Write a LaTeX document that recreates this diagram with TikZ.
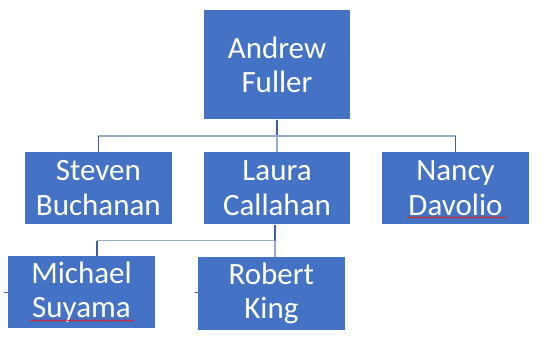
\documentclass[tikz,border=0pt]{standalone}
\usepackage{fontspec}
\setmainfont{Carlito}
\usetikzlibrary{decorations.pathmorphing}
\definecolor{boxblue}{HTML}{4472C4}
\definecolor{darkline}{HTML}{3F5F9E}
\definecolor{lightline}{HTML}{97ACCF}
\definecolor{spell}{HTML}{E02020}
\begin{document}
\begin{tikzpicture}[x=1pt,y=-1pt,
  person/.style={draw=none,fill=boxblue,text=white,inner sep=0pt,align=center,
    font=\fontsize{31}{34.5}\selectfont},
  dk/.style={draw=darkline,line width=1.6pt},
  lt/.style={draw=lightline,line width=1.8pt},
  squig/.style={draw=spell,line width=0.6pt,decorate,
    decoration={snake,amplitude=0.7pt,segment length=2.5pt}}]
\useasboundingbox (0,0) rectangle (554,361);
% boxes
\node[person,minimum width=146pt,minimum height=109.3pt] (A) at (277,64.65) {Andrew\\Fuller};
\node[person,minimum width=146.7pt,minimum height=72.3pt] (S) at (98.35,188.15) {Steven\\Buchanan};
\node[person,minimum width=146pt,minimum height=72.3pt] (L) at (277,188.15) {Laura\\Callahan};
\node[person,minimum width=147pt,minimum height=72.3pt] (N) at (455.5,188.15) {Nancy\\Davolio};
\node[person,minimum width=147pt,minimum height=72.3pt] (M) at (81.5,292.15) {Michael\\Suyama};
\node[person,minimum width=146.7pt,minimum height=72.7pt] (R) at (271.35,293.35) {Robert\\King};
% junctions
\coordinate (j1) at (277,135.7);
\coordinate (j2) at (274.7,240.5);
\coordinate (m1) at (96.7,240.5);
% Andrew to children
\draw[dk] (A.south) -- (j1);
\draw[lt] (j1 -| S.north) -- (j1 -| N.north);
\draw[dk] (j1 -| S.north) -- (S.north);
\draw[lt] (j1) -- (L.north);
\draw[dk] (j1 -| N.north) -- (N.north);
% Laura to children
\draw[dk] (L.south -| j2) -- (j2);
\draw[lt] (m1) -- (j2);
\draw[dk] (m1) -- (m1 |- M.north);
\draw[lt] (j2) -- (j2 |- R.north);
% small ticks
\coordinate (t1) at (4,292);
\coordinate (t2) at (7.5,292);
\coordinate (t3) at (194.5,292.5);
\coordinate (t4) at (198,292.5);
\draw[dk,line width=0.8pt] (t1) -- (t2);
\draw[dk,line width=0.8pt] (t3) -- (t4);
% spell-check underlines
\coordinate (u1) at (407,217.5);
\coordinate (u2) at (506.5,217.5);
\coordinate (u3) at (29.5,320.5);
\coordinate (u4) at (134,320.5);
\draw[squig] (u1) -- (u2);
\draw[squig] (u3) -- (u4);
\end{tikzpicture}
\end{document}
